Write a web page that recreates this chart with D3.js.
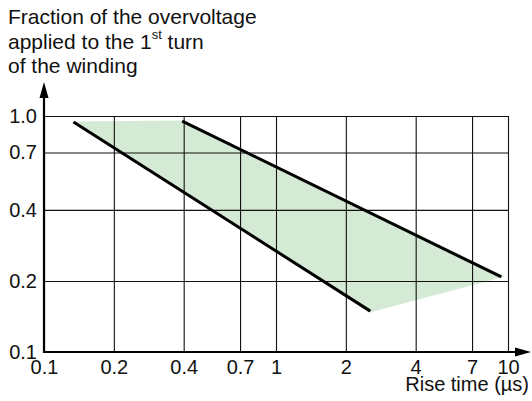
<!DOCTYPE html>
<html>
<head>
<meta charset="utf-8">
<script src="https://cdn.jsdelivr.net/npm/d3@7"></script>
<style>
  body { margin: 0; background: #fff; }
  svg text { font-family: "Liberation Sans", Arial, sans-serif; fill: #111; }
</style>
</head>
<body>
<svg id="chart" width="532" height="401"></svg>
<script>
// ---- data ----
const xTicks = [0.1, 0.2, 0.4, 0.7, 1, 2, 4, 7, 10];
const xTickLabels = ["0.1", "0.2", "0.4", "0.7", "1", "2", "4", "7", "10"];
const yTicks = [0.1, 0.2, 0.4, 0.7, 1.0];
const yTickLabels = ["0.1", "0.2", "0.4", "0.7", "1.0"];
// boundary lines: [rise time (µs), fraction]
const lowerLine = [[0.134, 0.943], [2.55, 0.149]];
const upperLine = [[0.394, 0.952], [9.36, 0.208]];
// shaded area
const zoneArea = [[0.135, 0.948], [0.398, 0.957], [9.74, 0.209], [2.57, 0.1477]];
const titleLines = ["Fraction of the overvoltage", "applied to the 1", "of the winding"];
const xTitle = "Rise time  (\u00b5s)";

// ---- layout ----
const svg = d3.select("#chart");
const x = d3.scaleLog().domain([0.1, 10]).range([44, 508]);
const y = d3.scaleLog().domain([0.1, 1]).range([352, 116]);

// shaded area
svg.append("path")
  .attr("d", d3.line().x(d => x(d[0])).y(d => y(d[1]))(zoneArea) + "Z")
  .attr("fill", "#d5ead5")
  .attr("stroke", "none");

// gridlines + tick labels (x)
const gx = svg.append("g").attr("transform", `translate(0,${y(0.1)})`)
  .call(d3.axisBottom(x).tickValues(xTicks)
    .tickFormat((d, i) => xTickLabels[i])
    .tickSize(-(y(0.1) - y(1))).tickPadding(7.5));
gx.select(".domain").remove();
gx.selectAll("line").attr("stroke", "#111").attr("stroke-width", 1.1);
gx.selectAll("text").attr("font-size", 20).attr("font-family", "Liberation Sans, Arial, sans-serif").attr("fill", "#111");

// gridlines + tick labels (y)
const gy = svg.append("g").attr("transform", `translate(${x(0.1)},0)`)
  .call(d3.axisLeft(y).tickValues(yTicks)
    .tickFormat((d, i) => yTickLabels[i])
    .tickSize(-(x(10) - x(0.1))).tickPadding(7));
gy.select(".domain").remove();
gy.selectAll("line").attr("stroke", "#111").attr("stroke-width", 1.1);
gy.selectAll("text").attr("font-size", 20).attr("font-family", "Liberation Sans, Arial, sans-serif").attr("fill", "#111");

// boundary lines
[lowerLine, upperLine].forEach(l => {
  svg.append("path")
    .attr("d", d3.line().x(d => x(d[0])).y(d => y(d[1]))(l))
    .attr("fill", "none").attr("stroke", "#000").attr("stroke-width", 3);
});

// axes with arrows
const x0 = x(0.1), y0 = y(0.1);
svg.append("line").attr("x1", x0).attr("y1", y0 + 1).attr("x2", x0).attr("y2", 95)
  .attr("stroke", "#000").attr("stroke-width", 2.2);
svg.append("path").attr("d", `M${x0},82 L${x0 - 4.5},98 L${x0 + 4.5},98 Z`).attr("fill", "#000");
svg.append("line").attr("x1", x0 - 1).attr("y1", y0).attr("x2", 517).attr("y2", y0)
  .attr("stroke", "#000").attr("stroke-width", 2.2);
svg.append("path").attr("d", `M531,${y0} L515,${y0 - 4.5} L515,${y0 + 4.5} Z`).attr("fill", "#000");

// titles
const t = svg.append("text").attr("font-size", 21);
t.append("tspan").attr("x", 8).attr("y", 24).text(titleLines[0]);
t.append("tspan").attr("x", 8).attr("y", 48.5).text(titleLines[1]);
t.append("tspan").attr("font-size", 13).attr("dy", -9.5).text("st");
t.append("tspan").attr("dy", 9.5).text(" turn");
t.append("tspan").attr("x", 8).attr("y", 73).text(titleLines[2]);

svg.append("text").attr("x", 529).attr("y", 391).attr("text-anchor", "end")
  .attr("font-size", 20).text(xTitle);
</script>
</body>
</html>
